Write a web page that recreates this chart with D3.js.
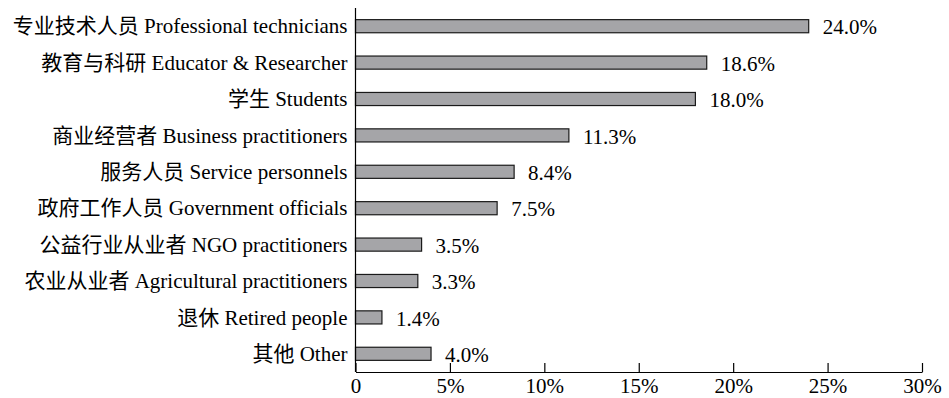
<!DOCTYPE html>
<html>
<head>
<meta charset="utf-8">
<script src="https://cdn.jsdelivr.net/npm/d3@7"></script>
<style>
  html, body { margin: 0; padding: 0; background: #fff; }
  svg { display: block; }
  text { font-family: "Liberation Serif", "Times New Roman", "Noto Sans CJK SC", serif; fill: #000; }
</style>
</head>
<body>
<svg id="chart" width="949" height="398"></svg>
<script>
// Occupation categories (top to bottom)
const categories = [
  "专业技术人员 Professional technicians",
  "教育与科研 Educator & Researcher",
  "学生 Students",
  "商业经营者 Business practitioners",
  "服务人员 Service personnels",
  "政府工作人员 Government officials",
  "公益行业从业者 NGO practitioners",
  "农业从业者 Agricultural practitioners",
  "退休 Retired people",
  "其他 Other"
];
// Share of respondents, in percent
const shares = [24.0, 18.6, 18.0, 11.3, 8.4, 7.5, 3.5, 3.3, 1.4, 4.0];
// Axis ticks, in percent
const tickValues = [0, 5, 10, 15, 20, 25, 30];
const tickLabels = ["0", "5%", "10%", "15%", "20%", "25%", "30%"];

const plot = { left: 355.5, right: 922, top: 8, bottom: 372 };
const fontSize = 21;
const svg = d3.select("#chart");

const x = d3.scaleLinear().domain([0, 30]).range([plot.left, plot.right]);
const y = d3.scaleBand()
  .domain(categories)
  .range([plot.top, plot.bottom])
  .paddingInner(0.64)
  .paddingOuter(0.32);

// Bars
svg.append("g").selectAll("rect")
  .data(categories)
  .join("rect")
  .attr("x", x(0))
  .attr("y", d => y(d))
  .attr("width", (d, i) => x(shares[i]) - x(0))
  .attr("height", y.bandwidth())
  .attr("fill", "#a5a5a8")
  .attr("stroke", "#1a1a1a")
  .attr("stroke-width", 1.2);

// Value labels
svg.append("g").selectAll("text")
  .data(categories)
  .join("text")
  .attr("x", (d, i) => x(shares[i]) + 14)
  .attr("y", d => y(d) + y.bandwidth() / 2 + 1)
  .attr("dy", "0.34em")
  .attr("font-size", fontSize)
  .text((d, i) => shares[i].toFixed(1) + "%");

// Category labels
svg.append("g").selectAll("text")
  .data(categories)
  .join("text")
  .attr("x", plot.left - 8)
  .attr("y", d => y(d) + y.bandwidth() / 2)
  .attr("dy", "0.34em")
  .attr("text-anchor", "end")
  .attr("font-size", fontSize)
  .text(d => d);

// Vertical axis line
svg.append("line")
  .attr("x1", x(0)).attr("x2", x(0))
  .attr("y1", plot.top).attr("y2", plot.bottom)
  .attr("stroke", "#000").attr("stroke-width", 1.2);

// Bottom axis with inward ticks
const xAxis = d3.axisBottom(x)
  .tickValues(tickValues)
  .tickFormat((d, i) => tickLabels[i])
  .tickSizeInner(-9)
  .tickSizeOuter(0)
  .tickPadding(6);

const gx = svg.append("g")
  .attr("transform", `translate(0,${plot.bottom})`)
  .call(xAxis);
gx.select(".domain").attr("stroke", "#000").attr("stroke-width", 1.2);
gx.selectAll(".tick line").attr("stroke", "#000").attr("stroke-width", 1.2);
gx.selectAll(".tick text")
  .attr("font-size", fontSize)
  .attr("font-family", "\"Liberation Serif\", \"Times New Roman\", serif")
  .attr("fill", "#000");
</script>
</body>
</html>
